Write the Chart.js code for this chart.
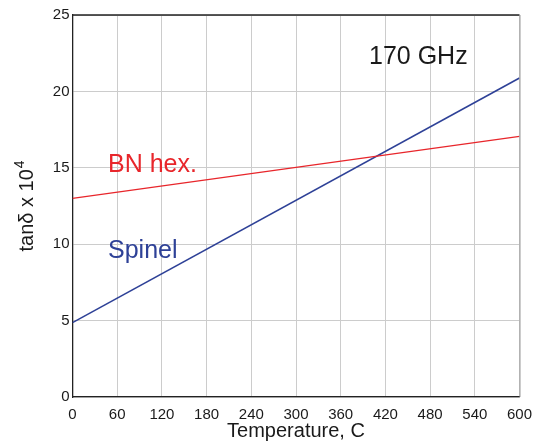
<!DOCTYPE html>
<html><head><meta charset="utf-8">
<script src="https://cdn.jsdelivr.net/npm/chart.js@4/dist/chart.umd.min.js"></script>
<style>html,body{margin:0;padding:0;background:#fff}#wrap{width:535px;height:446px}</style>
</head><body><div id="wrap"><canvas id="c" width="535" height="446"></canvas></div>
<script>
const temperature = [0, 600];
const spinel = [4.87, 20.88];
const bnHex = [13.0, 17.06];
const xTicks = [0, 60, 120, 180, 240, 300, 360, 420, 480, 540, 600];
const yTicks = [0, 5, 10, 15, 20, 25];
const FONT = "'Liberation Sans', Arial, sans-serif";

const annot = {
  id: 'annot',
  afterDraw(chart) {
    const ctx = chart.ctx, xs = chart.scales.x, ys = chart.scales.y;
    ctx.save();
    ctx.strokeStyle = '#222'; ctx.lineWidth = 1.3;
    ctx.beginPath(); ctx.moveTo(xs.left, ys.top); ctx.lineTo(xs.right, ys.top); ctx.stroke();
    ctx.strokeStyle = '#999'; ctx.lineWidth = 1;
    ctx.beginPath(); ctx.moveTo(xs.right+0.5, ys.top); ctx.lineTo(xs.right+0.5, ys.bottom); ctx.stroke();
    ctx.font = '25px ' + FONT; ctx.textBaseline = 'alphabetic'; ctx.textAlign = 'left';
    ctx.fillStyle = '#1a1a1a'; ctx.fillText('170 GHz', 369, 64);
    ctx.fillStyle = '#e8262b'; ctx.fillText('BN hex.', 108, 172);
    ctx.fillStyle = '#2e4197'; ctx.fillText('Spinel', 108, 258);
    // x title
    ctx.fillStyle = '#1a1a1a';
    ctx.font = '20px ' + FONT; ctx.textAlign = 'center';
    ctx.fillText('Temperature, C', (xs.left + xs.right)/2, 437);
    // y title
    ctx.translate(33, 206); ctx.rotate(-Math.PI/2);
    ctx.font = '20px ' + FONT;
    const main = 'tan\u03b4 x 10';
    const w1 = ctx.measureText(main).width;
    ctx.font = '14px ' + FONT;
    const w2 = ctx.measureText('4').width;
    const tot = w1 + w2 + 1;
    ctx.font = '20px ' + FONT;
    ctx.textAlign = 'left';
    ctx.fillText(main, -tot/2, 0);
    ctx.font = '14px ' + FONT;
    ctx.fillText('4', -tot/2 + w1 + 1, -9);
    ctx.restore();
  }
};

new Chart(document.getElementById('c'), {
  type: 'scatter',
  data: {
    datasets: [
      { label: 'BN hex.', data: temperature.map((t,i)=>({x:t,y:bnHex[i]})), showLine: true, borderColor: '#e8262b', borderWidth: 1.3, pointRadius: 0 },
      { label: 'Spinel', data: temperature.map((t,i)=>({x:t,y:spinel[i]})), showLine: true, borderColor: '#2e4197', borderWidth: 1.6, pointRadius: 0 }
    ]
  },
  options: {
    responsive: false, animation: false,
    layout: { padding: { top: 15, right: 15.5, left: 0, bottom: 0 } },
    plugins: { legend: { display: false }, tooltip: { enabled: false } },
    scales: {
      x: {
        type: 'linear', min: 0, max: 600,
        afterBuildTicks: s => { s.ticks = xTicks.map(v=>({value:v})); },
        afterFit: s => { s.height = 49; s.paddingRight = 0; s.paddingLeft = 0; },
        grid: { color: '#cccccc', lineWidth: 1, drawTicks: false },
        border: { color: '#222', width: 1.3 },
        ticks: { color: '#1a1a1a', font: { family: FONT, size: 15 }, padding: 9, maxRotation: 0 }
      },
      y: {
        min: 0, max: 25,
        afterBuildTicks: s => { s.ticks = yTicks.map(v=>({value:v})); },
        afterFit: s => { s.width = 72.5; s.paddingTop = 0; s.paddingBottom = 0; },
        grid: { color: '#cccccc', lineWidth: 1, drawTicks: false },
        border: { color: '#222', width: 1.3 },
        ticks: { color: '#1a1a1a', font: { family: FONT, size: 15 }, padding: 3 }
      }
    }
  },
  plugins: [annot]
});
</script></body></html>
